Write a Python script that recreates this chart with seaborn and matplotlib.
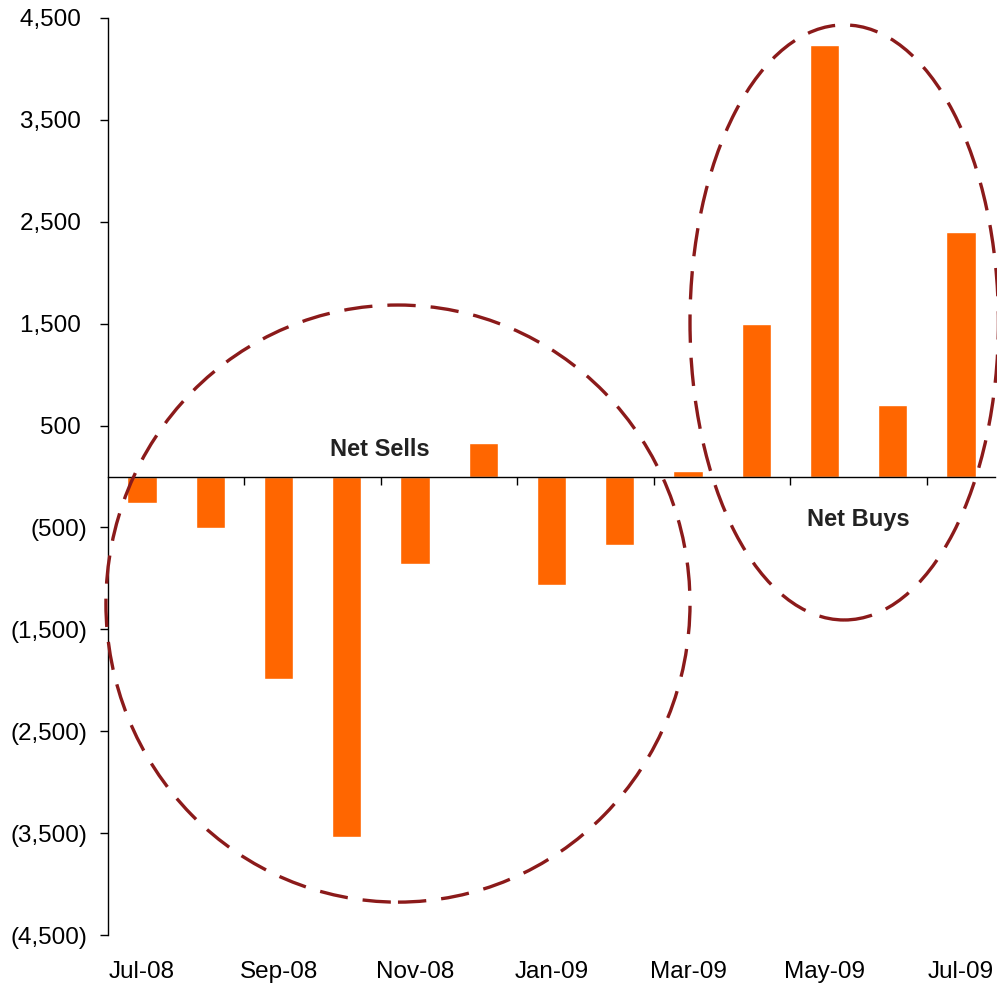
import matplotlib
matplotlib.use("Agg")
import matplotlib.pyplot as plt
from matplotlib.patches import Ellipse
import seaborn as sns
import pandas as pd
import numpy as np

# monthly net flows
months = ['Jul-08', 'Aug-08', 'Sep-08', 'Oct-08', 'Nov-08', 'Dec-08', 'Jan-09',
          'Feb-09', 'Mar-09', 'Apr-09', 'May-09', 'Jun-09', 'Jul-09']
net_flow = [-260, -510, -1990, -3540, -855, 325, -1060, -670, 50, 1500, 4230, 700, 2400]

ytick_vals = [4500, 3500, 2500, 1500, 500, -500, -1500, -2500, -3500, -4500]
ytick_labels = ['4,500 ', '3,500 ', '2,500 ', '1,500 ', '500 ',
                '(500)', '(1,500)', '(2,500)', '(3,500)', '(4,500)']

sns.set_style("white")
plt.rcParams['font.family'] = ['Liberation Sans', 'DejaVu Sans']

df = pd.DataFrame({'month': months, 'flow': net_flow})

fig = plt.figure(figsize=(9.97, 9.88), dpi=100)
ax = fig.add_axes([0.1083, 0.0536, 0.8897, 0.9282])

sns.barplot(data=df, x='month', y='flow', color='#FF6600', width=0.43,
            saturation=1, ax=ax, zorder=2)

ax.set_xlim(-0.5, 12.5)
ax.set_ylim(-4500, 4500)
ax.set_xlabel('')
ax.set_ylabel('')

ax.set_yticks(ytick_vals)
ax.set_yticklabels(ytick_labels, fontsize=17.5)
ax.tick_params(axis='y', direction='out', length=6, width=1, pad=9, colors='black', left=True)

# zero line as the x axis, with boundary ticks every two months
ax.spines['top'].set_visible(False)
ax.spines['right'].set_visible(False)
ax.spines['bottom'].set_position(('data', 0))
for s in ['left', 'bottom']:
    ax.spines[s].set_color('black')
    ax.spines[s].set_linewidth(1)
    ax.spines[s].set_zorder(3)

ax.set_xticks(np.arange(0, 13, 2))
ax.set_xticklabels(months[::2], fontsize=17.5, color='black')
ax.set_xticks(np.arange(1.5, 12, 2), minor=True)
ax.tick_params(axis='x', which='major', length=0, pad=349)
ax.tick_params(axis='x', which='minor', direction='out', length=6, width=1,
               color='black', bottom=True)

# circled groups
ell_color = '#8B1A1A'
sells = Ellipse((3.75, -1247), 8.56, 5860, fill=False, edgecolor=ell_color,
                linewidth=2.4, linestyle=(0, (8.5, 4.5)), clip_on=False, zorder=4)
buys = Ellipse((10.29, 1512), 4.52, 5840, fill=False, edgecolor=ell_color,
               linewidth=2.4, linestyle=(0, (8.5, 4.5)), clip_on=False, zorder=4)
ax.add_patch(sells)
ax.add_patch(buys)

ax.text(3.49, 270, 'Net Sells', fontsize=17, fontweight='bold', color='#222222',
        ha='center', va='center')
ax.text(10.5, -417, 'Net Buys', fontsize=17, fontweight='bold', color='#222222',
        ha='center', va='center')

fig.savefig('out.png', dpi=100)
